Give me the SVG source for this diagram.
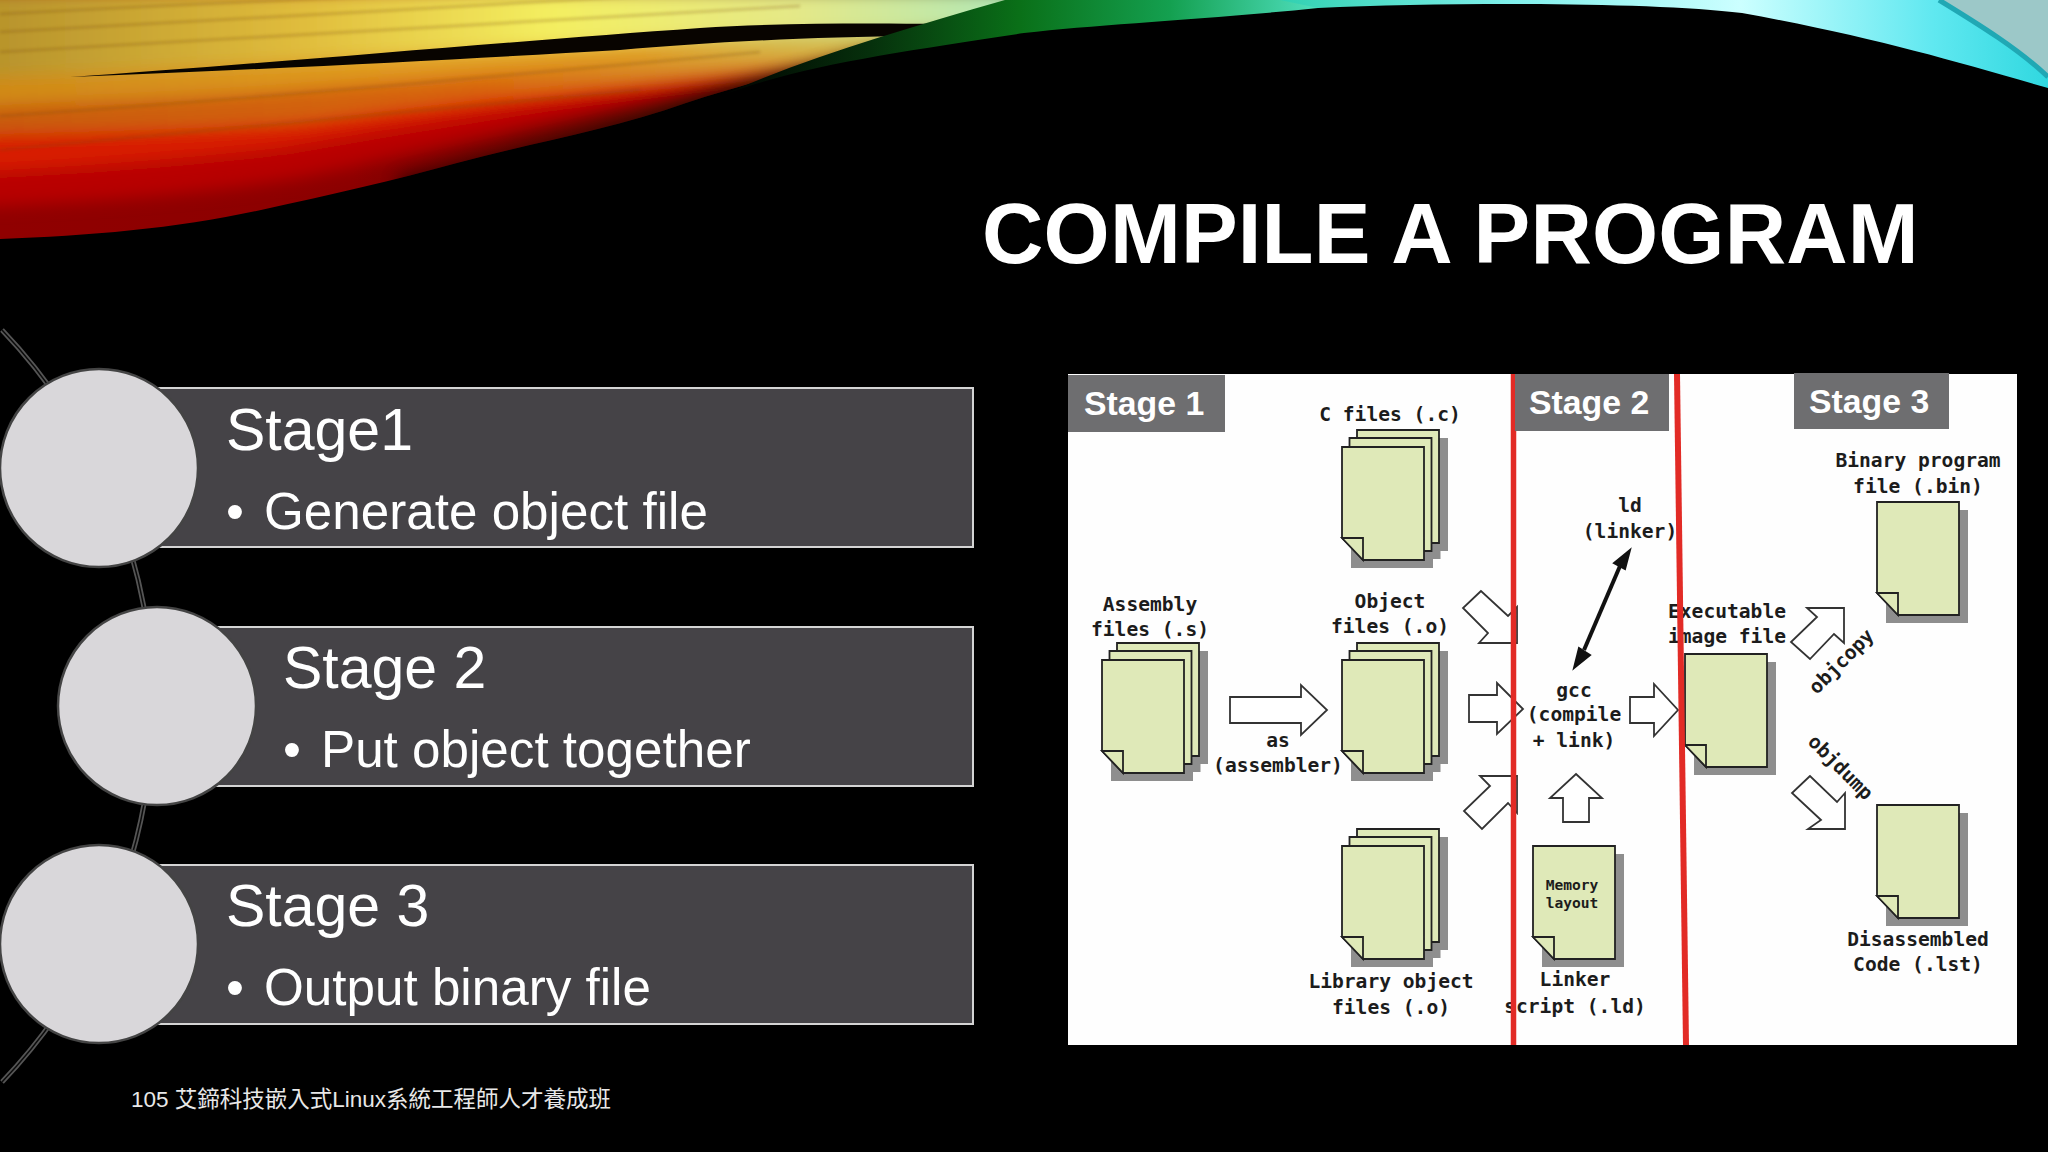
<svg xmlns="http://www.w3.org/2000/svg" width="2048" height="1152" viewBox="0 0 2048 1152">
<style>
.bar{fill:#454347;stroke:#d4d4d4;stroke-width:2}
.disc{fill:#d9d7da;stroke:#444;stroke-width:2.5}
.h{font:59px "Liberation Sans",Arial,sans-serif;fill:#fff}
.b{font:51.2px "Liberation Sans",Arial,sans-serif;fill:#fff}
.st{font:bold 33.8px "Liberation Sans",Arial,sans-serif;fill:#fff}
.sb{fill:#6e6e70}
.t{font:bold 19.6px "DejaVu Sans Mono","Liberation Mono",monospace;fill:#1c1c1c;text-anchor:middle}
.m{font:bold 14.6px "DejaVu Sans Mono","Liberation Mono",monospace;fill:#1c1c1c;text-anchor:middle}
.a{fill:#fff;stroke:#333;stroke-width:1.8;stroke-linejoin:miter}
.red{stroke:#e22b26;fill:none}
.sd{fill:#8e8e8e}
.pg{fill:#dfe9b8;stroke:#222;stroke-width:1.8}
</style>
<defs>
<filter id="bl" x="-5%" y="-20%" width="110%" height="140%"><feGaussianBlur stdDeviation="12 8"/></filter>
<filter id="bl2" x="-5%" y="-50%" width="110%" height="200%"><feGaussianBlur stdDeviation="1.5"/></filter>
<filter id="bl3" x="-10%" y="-50%" width="120%" height="200%"><feGaussianBlur stdDeviation="9"/></filter>
<clipPath id="warm"><path d="M0,239 C90,236 180,228 261,210 C330,195 395,180 457,163 C530,143 610,130 686,103 C750,82 820,65 882,50 L1010,0 H0 Z"/></clipPath>
<linearGradient id="gB" gradientUnits="userSpaceOnUse" x1="0" y1="0" x2="880" y2="0">
<stop offset="0" stop-color="#900000"/><stop offset=".4" stop-color="#8c0000"/><stop offset=".7" stop-color="#5a0800"/><stop offset="1" stop-color="#302000"/></linearGradient>
<linearGradient id="gU" gradientUnits="userSpaceOnUse" x1="0" y1="0" x2="1000" y2="0">
<stop offset="0" stop-color="#b8942c"/><stop offset=".3" stop-color="#e0bc3c"/><stop offset=".55" stop-color="#f4ee60"/><stop offset=".8" stop-color="#e4e888"/><stop offset="1" stop-color="#b4e8b4"/></linearGradient>
<linearGradient id="gM" gradientUnits="userSpaceOnUse" x1="0" y1="0" x2="900" y2="0">
<stop offset="0" stop-color="#d08a18"/><stop offset=".45" stop-color="#e09a20"/><stop offset=".72" stop-color="#e0a024"/><stop offset="1" stop-color="#c8d878"/></linearGradient>
<linearGradient id="gO" gradientUnits="userSpaceOnUse" x1="0" y1="0" x2="800" y2="0">
<stop offset="0" stop-color="#c85c0a"/><stop offset=".6" stop-color="#d8660c"/><stop offset="1" stop-color="#d8b040"/></linearGradient>
<linearGradient id="gG" gradientUnits="userSpaceOnUse" x1="720" y1="0" x2="1320" y2="0">
<stop offset="0" stop-color="#000"/><stop offset=".25" stop-color="#06300c"/><stop offset=".5" stop-color="#0a7018"/><stop offset=".75" stop-color="#14a050"/><stop offset="1" stop-color="#50e0c0"/></linearGradient>
<linearGradient id="gC" gradientUnits="userSpaceOnUse" x1="1280" y1="0" x2="2048" y2="0">
<stop offset="0" stop-color="#30d0b0"/><stop offset=".3" stop-color="#80f0ec"/><stop offset=".6" stop-color="#ccffff"/><stop offset=".85" stop-color="#60e8f0"/><stop offset="1" stop-color="#30d8e0"/></linearGradient>
<g id="sheet"><path class="pg" d="M21,113 L0,91 V0 H82 V113 Z"/><path class="pg" d="M0,91 H21 V113 Z"/></g>
<g id="page"><rect class="sd" x="9" y="8" width="82" height="113"/><use href="#sheet"/></g>
<g id="stack"><rect class="sd" x="24" y="-9" width="82" height="113"/><rect class="sd" x="16.5" y="-1" width="82" height="113"/><rect class="sd" x="9" y="8" width="82" height="113"/><use href="#sheet" x="15" y="-17"/><use href="#sheet" x="7.5" y="-9"/><use href="#sheet"/></g>
</defs>
<rect width="2048" height="1152" fill="#000"/>
<g id="swoosh">
<g clip-path="url(#warm)">
<rect width="1010" height="240" fill="url(#gB)"/>
<g filter="url(#bl)">
<path d="M-40,-10 H900 V50 C760,80 500,135 300,178 C180,198 60,203 -40,208 Z" fill="#b80400"/>
<path d="M-40,-10 H900 V50 C740,75 480,112 280,148 C170,160 60,168 -40,172 Z" fill="#d81c04"/>
<path d="M-40,-10 H900 V50 C760,70 520,92 300,122 C180,130 60,132 -40,135 Z" fill="url(#gO)"/>
<path d="M-40,-10 H1000 V30 C800,45 600,65 300,88 C180,98 60,100 -40,108 Z" fill="url(#gM)"/>
<path d="M-40,-10 H1020 V25 C800,30 500,50 65,74 L-40,78 Z" fill="url(#gU)"/>
</g>
<g fill="none" stroke="#7a4a08" stroke-width="2.5" opacity=".28" filter="url(#bl2)">
<path d="M0,14 C220,2 300,0 420,-6"/><path d="M0,32 C240,20 420,8 640,-4"/><path d="M0,52 C260,38 480,22 800,6"/>
<path d="M0,116 C240,100 480,78 760,52"/><path d="M0,150 C220,130 420,110 640,90"/>
</g>
<path d="M400,190 C530,160 610,145 686,118 C750,97 820,78 900,56" fill="none" stroke="#000" stroke-width="22" opacity=".7" filter="url(#bl3)"/>
<path d="M70,77 C250,65 500,42 700,28 C780,23 870,23 940,24 L920,36 C800,37 700,43 620,50 C480,58 300,68 70,77 Z" fill="#080400"/>
</g>
<path d="M718,97 C800,60 900,30 1005,0 L1320,0 L1318,8 C1200,20 1100,24 1024,33 C900,52 800,65 718,97 Z" fill="url(#gG)"/>
<path d="M1280,0 H2048 V88 C1950,60 1873,37 1742,13 C1650,2 1450,2 1318,8 Z" fill="url(#gC)"/>
<path d="M1939,0 C1980,25 2020,50 2048,77 V0 Z" fill="#9cc8c8"/>
<path d="M1939,0 C1980,25 2020,50 2048,77" fill="none" stroke="#20a8b4" stroke-width="5"/>
</g>
<text x="982" y="263" font-family="'Liberation Sans',Arial,sans-serif" font-weight="bold" font-size="85" letter-spacing=".2" fill="#fff">COMPILE A PROGRAM</text>
<g id="rail" fill="none">
<path d="M2,330 A544,544 0 0 1 2,1082" stroke="#555" stroke-width="5"/>
<path d="M2,330 A544,544 0 0 1 2,1082" stroke="#0a0a0a" stroke-width="1.5"/>
</g>
<g id="item1">
<rect class="bar" x="100" y="388" width="873" height="159"/>
<circle class="disc" cx="99" cy="468" r="99"/>
<text class="h" x="226" y="450">Stage1</text>
<text class="b" x="226" y="529">•</text><text class="b" x="264" y="529">Generate object file</text>
</g>
<g id="item2">
<rect class="bar" x="157" y="627" width="816" height="159"/>
<circle class="disc" cx="157" cy="706" r="99"/>
<text class="h" x="283" y="688">Stage 2</text>
<text class="b" x="283" y="767">•</text><text class="b" x="321" y="767">Put object together</text>
</g>
<g id="item3">
<rect class="bar" x="100" y="865" width="873" height="159"/>
<circle class="disc" cx="99" cy="944" r="99"/>
<text class="h" x="226" y="926">Stage 3</text>
<text class="b" x="226" y="1005">•</text><text class="b" x="264" y="1005">Output binary file</text>
</g>
<text id="footer" x="131" y="1107" font-family="'Liberation Sans','Noto Sans CJK TC',sans-serif" font-size="22.5" fill="#e8e8e8">105 艾鍗科技嵌入式Linux系統工程師人才養成班</text>
<rect id="panel" x="1068" y="374" width="949" height="671" fill="#fefefe"/>
<g id="connectors">
<path class="a" d="M1230,697 H1301 V685 L1327,710 L1301,735 V723 H1230 Z"/>
<path class="a" d="M1469,695 H1497 V683 L1523,709 L1497,734 V722 H1469 Z"/>
<path class="a" d="M1481,591 L1463,608 L1488,633 L1479,643 H1517 V607 L1508,616 Z"/>
<path class="a" d="M1480,776 H1517 V813 L1508,803 L1482,829 L1464,811 L1490,786 Z"/>
<path class="a" d="M1576,774 L1602,798 H1589 V822 H1563 V798 H1550 Z"/>
<path class="a" d="M1630,697 H1654 V684 L1678,710 L1654,736 V723 H1630 Z"/>
<path class="a" d="M1807,608 H1844 V643 L1834,634 L1810,659 L1791,642 L1817,617 Z"/>
<path class="a" d="M1810,776 L1792,793 L1821,820 L1808,829 H1845 V793 L1837,802 Z"/>
<path d="M1620,566 L1584,650" stroke="#111" stroke-width="4" fill="none"/>
<path d="M1630,550 L1614,563 L1625,569 Z M1574,668 L1590,655 L1579,648 Z" fill="#111" stroke="#111" stroke-width="2"/>
</g>
<g id="c-files"><use href="#stack" x="1342" y="447"/><text class="t" x="1390" y="421">C files (.c)</text></g>
<g id="assembly-files"><use href="#stack" x="1102" y="660"/><text class="t" x="1150" y="611">Assembly</text><text class="t" x="1150" y="636">files (.s)</text></g>
<g id="object-files"><use href="#stack" x="1342" y="660"/><text class="t" x="1390" y="608">Object</text><text class="t" x="1390" y="633">files (.o)</text></g>
<g id="library-files"><use href="#stack" x="1342" y="846"/><text class="t" x="1391" y="988">Library object</text><text class="t" x="1391" y="1014">files (.o)</text></g>
<g id="assembler"><text class="t" x="1278" y="747">as</text><text class="t" x="1278" y="772">(assembler)</text></g>
<g id="linker-label"><text class="t" x="1630" y="512">ld</text><text class="t" x="1630" y="538">(linker)</text></g>
<g id="gcc"><text class="t" x="1574" y="697">gcc</text><text class="t" x="1574" y="721">(compile</text><text class="t" x="1574" y="747">+ link)</text></g>
<g id="linker-script"><use href="#page" x="1533" y="846"/><text class="m" x="1572" y="890">Memory</text><text class="m" x="1572" y="908">layout</text><text class="t" x="1575" y="986">Linker</text><text class="t" x="1575" y="1013">script (.ld)</text></g>
<g id="executable"><use href="#page" x="1685" y="654"/><text class="t" x="1727" y="618">Executable</text><text class="t" x="1727" y="643">image file</text></g>
<g id="binary"><use href="#page" x="1877" y="502"/><text class="t" x="1918" y="467">Binary program</text><text class="t" x="1918" y="493">file (.bin)</text></g>
<g id="disassembled"><use href="#page" x="1877" y="805"/><text class="t" x="1918" y="946">Disassembled</text><text class="t" x="1918" y="971">Code (.lst)</text></g>
<text class="t" transform="translate(1846,666) rotate(-45)">objcopy</text>
<text class="t" transform="translate(1836,772) rotate(45)">objdump</text>
<path class="red" d="M1513.5,374 V1045" stroke-width="5.5"/>
<path class="red" d="M1677,374 L1686,1045" stroke-width="6"/>
<g id="stage1"><rect class="sb" x="1068" y="375" width="157" height="57"/><text class="st" x="1084" y="415">Stage 1</text></g>
<g id="stage2"><rect class="sb" x="1515" y="374" width="154" height="57"/><text class="st" x="1529" y="414">Stage 2</text></g>
<g id="stage3"><rect class="sb" x="1794" y="373" width="155" height="56"/><text class="st" x="1809" y="413">Stage 3</text></g>
</svg>
